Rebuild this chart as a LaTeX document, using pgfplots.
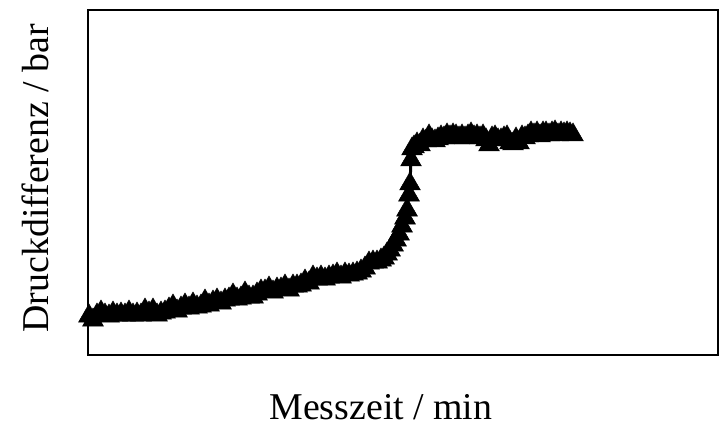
\documentclass[border=0pt]{standalone}
\usepackage{pgfplots}
\pgfplotsset{compat=1.18}
\usepackage{fontspec}
\setmainfont{Liberation Serif}
\begin{document}
\begin{tikzpicture}[x=1bp,y=1bp]
\begin{axis}[
  scale only axis, width=630bp, height=345bp,
  xmin=88, xmax=718, ymin=73, ymax=418,
  xtick=\empty, ytick=\empty,
  axis line style={line width=1.2bp},
  clip=false,
  label style={font=\fontsize{38}{42}\selectfont, inner sep=0pt},
  xlabel={Messzeit / min},
  ylabel={Druckdifferenz / bar},
  xlabel style={at={(rel axis cs:0.465,-0.150)}, anchor=center},
  ylabel style={at={(rel axis cs:-0.084,0.512)}, anchor=center, rotate=0},
]
\addplot[black, line width=3bp, mark=triangle*, mark size=12bp,
  mark options={solid, fill=black, line width=0.5bp}]
  table[x=x, y expr=428-\thisrow{y}] {
x y
89 316
93 320
97 315
101 312
105 315
109 316
113 313
117 315
121 314
125 315
129 312
133 315
137 314
141 315
145 310
149 313
153 310
157 315
161 313
165 312
169 309
173 306
177 311
181 308
185 305
189 308
193 304
197 307
201 306
205 301
209 305
213 302
217 300
221 303
225 300
229 299
233 295
237 299
241 298
245 293
249 297
253 297
257 294
261 291
265 291
269 288
273 292
277 289
281 289
285 286
289 290
293 286
297 286
301 285
305 281
309 283
313 277
317 279
321 277
325 279
329 277
333 276
337 274
341 277
345 274
349 275
353 274
357 273
361 271
365 268
369 263
373 262
377 262
381 260
384 258
387 254
390 250
393 245
396 240
399 234
402 226
405 218
407 210
409 195
410 184
411 160
412 149
414 147
417 144
420 145
423 140
426 141
429 136
432 140
435 141
438 139
441 137
444 138
447 135
450 137
453 135
456 136
459 138
462 136
465 138
468 136
471 134
474 137
477 136
480 138
483 136
486 140
489 145
492 138
495 137
498 140
501 140
504 138
507 137
510 143
513 144
516 139
519 143
522 137
525 138
528 136
531 133
534 135
537 133
540 136
543 133
546 133
549 135
552 133
555 132
558 135
561 133
564 134
567 133
570 134
573 135
};
\path (axis cs:0,0) rectangle (axis cs:721,428);
\end{axis}
\end{tikzpicture}
\end{document}
